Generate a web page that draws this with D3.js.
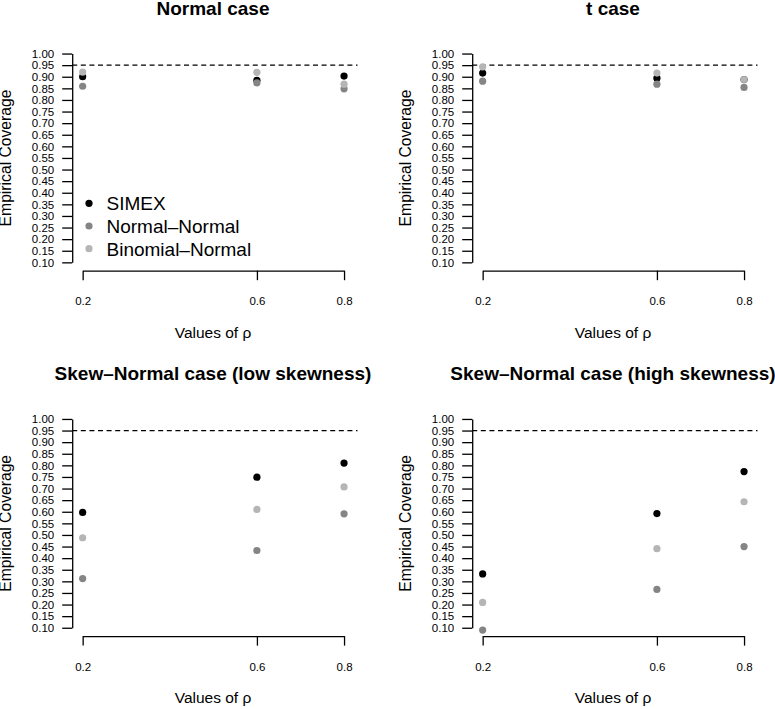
<!DOCTYPE html>
<html>
<head>
<meta charset="utf-8">
<script src="https://cdn.jsdelivr.net/npm/d3@7"></script>
<style>
  html, body { margin: 0; padding: 0; background: #fff; }
  svg { display: block; font-family: "Liberation Sans", Arial, Helvetica, sans-serif; }
</style>
</head>
<body>
<svg id="chart" width="775" height="709"></svg>
<script>
// ---- data ----
const rhoValues = [0.2, 0.6, 0.8];
const xTickLabels = ["0.2", "0.6", "0.8"];
const yTickValues = [0.10, 0.15, 0.20, 0.25, 0.30, 0.35, 0.40, 0.45, 0.50, 0.55,
                     0.60, 0.65, 0.70, 0.75, 0.80, 0.85, 0.90, 0.95, 1.00];
const panelTitles = ["Normal case", "t case",
                     "Skew\u2013Normal case (low skewness)", "Skew\u2013Normal case (high skewness)"];
const seriesNames = ["SIMEX", "Normal\u2013Normal", "Binomial\u2013Normal"];
const seriesColors = ["#000000", "#858585", "#b5b5b5"];
const nominalLevel = 0.95;
// coverage per panel (rows) at rho = 0.2, 0.6, 0.8
const simex = [
  [0.900, 0.885, 0.903],
  [0.916, 0.894, 0.888],
  [0.597, 0.749, 0.810],
  [0.332, 0.592, 0.773]
];
const normalNormal = [
  [0.859, 0.874, 0.848],
  [0.881, 0.868, 0.854],
  [0.312, 0.433, 0.591],
  [0.090, 0.265, 0.450]
];
const binomialNormal = [
  [0.920, 0.919, 0.868],
  [0.943, 0.916, 0.888],
  [0.488, 0.610, 0.707],
  [0.209, 0.441, 0.643]
];
const seriesData = [simex, normalNormal, binomialNormal];

// ---- layout ----
const svg = d3.select("#chart");
const panelOffsets = [[0, 0], [400, 0], [0, 365.4], [400, 365.4]];
const xDomain = [0.176, 0.824];
const xRange = [72.2, 354.5];
const yDomain = [0.064, 1.036];
const yRange = [270.7, 45.2];

panelTitles.forEach((title, p) => {
  const [ox, oy] = panelOffsets[p];
  const g = svg.append("g").attr("transform", `translate(${ox},${oy})`);

  const x = d3.scaleLinear().domain(xDomain).range(xRange);
  const y = d3.scaleLinear().domain(yDomain).range(yRange);

  // title
  g.append("text")
    .attr("x", 213).attr("y", 14.5)
    .attr("text-anchor", "middle")
    .attr("font-size", "19px").attr("font-weight", "bold")
    .attr("fill", "#000")
    .text(title);

  // y axis (spanning 0.10 .. 1.00)
  const yAxisScale = d3.scaleLinear().domain([0.10, 1.00]).range([y(0.10), y(1.00)]);
  const yAxis = g.append("g")
    .attr("transform", `translate(${x(xDomain[0])},0)`)
    .call(d3.axisLeft(yAxisScale).tickValues(yTickValues).tickFormat(d3.format(".2f"))
      .tickSizeOuter(0).tickSizeInner(10).tickPadding(8));
  yAxis.select(".domain").attr("stroke", "#000").attr("stroke-width", 1.3);
  yAxis.selectAll(".tick line").attr("stroke", "#000").attr("stroke-width", 1.3);
  yAxis.selectAll(".tick text").attr("font-size", "11.5px").attr("fill", "#000")
    .attr("font-family", "'Liberation Sans', Arial, sans-serif");

  // x axis (spanning 0.2 .. 0.8)
  const xAxisScale = d3.scaleLinear().domain([0.2, 0.8]).range([x(0.2), x(0.8)]);
  const xAxis = g.append("g")
    .attr("transform", `translate(0,${y(yDomain[0])})`)
    .call(d3.axisBottom(xAxisScale).tickValues(rhoValues)
      .tickFormat((d, i) => xTickLabels[i])
      .tickSizeOuter(0).tickSizeInner(9.5).tickPadding(17));
  xAxis.select(".domain").attr("stroke", "#000").attr("stroke-width", 1.3);
  xAxis.selectAll(".tick line").attr("stroke", "#000").attr("stroke-width", 1.3);
  xAxis.selectAll(".tick text").attr("font-size", "11.5px").attr("fill", "#000")
    .attr("font-family", "'Liberation Sans', Arial, sans-serif");

  // axis titles
  g.append("text")
    .attr("x", 213).attr("y", 338)
    .attr("text-anchor", "middle")
    .attr("font-size", "15.5px").attr("fill", "#000")
    .text("Values of \u03c1");
  g.append("text")
    .attr("transform", `translate(11,${(y(yDomain[0]) + y(yDomain[1])) / 2}) rotate(-90)`)
    .attr("text-anchor", "middle")
    .attr("font-size", "15.7px").attr("fill", "#000")
    .text("Empirical Coverage");

  // reference line
  g.append("line")
    .attr("x1", x(xDomain[0])).attr("x2", 357.5)
    .attr("y1", y(nominalLevel)).attr("y2", y(nominalLevel))
    .attr("stroke", "#000").attr("stroke-width", 1.2)
    .attr("stroke-dasharray", "5,3.6");

  // points
  seriesData.forEach((series, s) => {
    g.append("g").selectAll("circle")
      .data(series[p])
      .join("circle")
      .attr("cx", (d, i) => x(rhoValues[i]))
      .attr("cy", d => y(d))
      .attr("r", 3.6)
      .attr("fill", seriesColors[s]);
  });

  // legend (first panel only)
  if (p === 0) {
    const leg = g.append("g");
    seriesNames.forEach((name, s) => {
      const ly = 203.3 + s * 22.7;
      leg.append("circle").attr("cx", 89).attr("cy", ly).attr("r", 3.6).attr("fill", seriesColors[s]);
      leg.append("text").attr("x", 106.5).attr("y", ly + 6.8)
        .attr("font-size", "19px").attr("fill", "#000").text(name);
    });
  }
});
</script>
</body>
</html>
